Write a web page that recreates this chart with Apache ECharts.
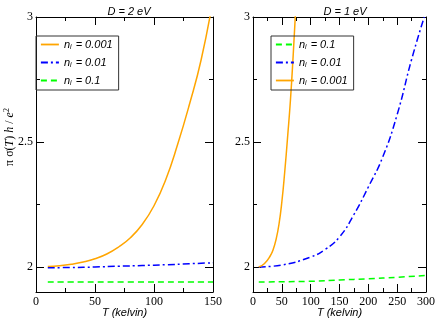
<!DOCTYPE html>
<html><head><meta charset="utf-8">
<script src="https://cdn.jsdelivr.net/npm/echarts@6/dist/echarts.min.js"></script>
<style>html,body{margin:0;padding:0;background:#fff}#c{width:436px;height:319px}</style>
</head><body><div id="c"></div>
<script>
// Panel titles and labels
const titles = ['D = 2 eV', 'D = 1 eV'];
const xName = 'T (kelvin)';
const yTickValues = [2, 2.5, 3];
const yMinorValues = [2.25, 2.75];

// Left panel (D = 2 eV)
const L001_T = [10, 20, 30, 40, 50, 60, 70, 80, 90, 100, 110, 120, 130, 140, 150];
const L001_V = [2.002, 2.005, 2.011, 2.02, 2.033, 2.052, 2.08, 2.117, 2.17, 2.245, 2.35, 2.49, 2.65, 2.83, 3.07];
const L01_T = [10, 30, 50, 70, 90, 110, 130, 150];
const L01_V = [1.997, 1.998, 2.0, 2.003, 2.006, 2.009, 2.013, 2.017];
const L1_T = [10, 150];
const L1_V = [1.94, 1.94];

// Right panel (D = 1 eV)
const R001_T = [10, 20, 30, 35, 40, 45, 50, 55, 60, 65, 70, 74];
const R001_V = [2.0, 2.014, 2.045, 2.07, 2.11, 2.17, 2.26, 2.38, 2.52, 2.67, 2.86, 3.03];
const R01_T = [10, 50, 100, 125, 150, 175, 200, 225, 250, 275, 297];
const R01_V = [2.0, 2.008, 2.04, 2.07, 2.12, 2.21, 2.32, 2.44, 2.61, 2.83, 3.0];
const R1_T = [10, 100, 150, 200, 250, 300];
const R1_V = [1.94, 1.943, 1.948, 1.953, 1.959, 1.966];

const colors = { 'n_i = 0.001': '#ffa500', 'n_i = 0.01': '#0000ff', 'n_i = 0.1': '#00ff00' };
const dashes = { 'n_i = 0.001': 'solid', 'n_i = 0.01': [7, 3, 2, 3], 'n_i = 0.1': [6, 4] };

const pair = (t, v) => t.map((x, i) => [x, v[i]]);
const serif = '"Liberation Serif", "DejaVu Serif", serif';
const sans = '"Liberation Sans", Arial, sans-serif';

function xAxes(grid, max, bottom) {
  return {
    type: 'value', gridIndex: grid, min: 0, max: max, interval: 50,
    position: bottom ? 'bottom' : 'top',
    axisLine: { show: true, onZero: false, lineStyle: { color: '#000', width: 1 } },
    axisTick: { show: true, inside: true, length: 8, lineStyle: { color: '#000' } },
    minorTick: { show: true, splitNumber: 2, length: 4, lineStyle: { color: '#000' } },
    splitLine: { show: false }, minorSplitLine: { show: false },
    axisLabel: { show: bottom, margin: 4, color: '#000', fontFamily: serif, fontSize: 12 },
    name: bottom ? xName : '', nameLocation: 'middle', nameGap: 15, nameMoveOverlap: false,
    nameTextStyle: { fontFamily: sans, fontStyle: 'italic', fontSize: 11, color: '#000', verticalAlign: 'top' }
  };
}
function yAxes(grid, left, minor) {
  const vals = minor ? yMinorValues : yTickValues;
  return {
    type: 'value', gridIndex: grid, min: 1.9, max: 3,
    position: left ? 'left' : 'right',
    axisLine: { show: !minor, onZero: false, lineStyle: { color: '#000', width: 1 } },
    axisTick: { show: true, inside: true, length: minor ? 4 : 8, customValues: vals, lineStyle: { color: '#000' } },
    splitLine: { show: false },
    axisLabel: { show: left && !minor, customValues: vals, margin: 3, color: '#000', fontFamily: serif, fontSize: 12 }
  };
}

const grids = [
  { left: 36, right: 223, top: 17, bottom: 27, containLabel: false, outerBoundsMode: 'none' },
  { left: 253, right: 10, top: 17, bottom: 27, containLabel: false, outerBoundsMode: 'none' }
];

const legendCommon = {
  orient: 'vertical', top: 36, itemWidth: 18, itemHeight: 11, itemGap: 6,
  padding: [3, 6, 3, 4], borderColor: '#333', borderWidth: 1, backgroundColor: 'transparent',
  selectedMode: false,
  itemStyle: { opacity: 0, color: 'rgba(0,0,0,0)', borderWidth: 0 },
  lineStyle: { width: 1.8 },
  formatter: function (name) {
    const v = name.split(' = ')[1];
    return '{n|n}{s|i}{n| = ' + v + '}';
  },
  textStyle: {
    color: '#000', fontFamily: sans, fontSize: 11,
    rich: {
      n: { fontFamily: sans, fontStyle: 'italic', fontSize: 11, color: '#000' },
      s: { fontFamily: sans, fontStyle: 'italic', fontSize: 7, color: '#000', verticalAlign: 'bottom', padding: [6, 1, 0, 0] }
    }
  }
};

function mkSeries(name, data, xi, yi) {
  return {
    type: 'line', name: name, data: data, xAxisIndex: xi, yAxisIndex: yi,
    symbol: 'none', smooth: true, clip: true, animation: false,
    lineStyle: { color: colors[name], width: 1.5, type: dashes[name] },
    itemStyle: { color: colors[name] }
  };
}

const option = {
  animation: false,
  title: [
    { text: titles[0], left: 124, top: 1, textAlign: 'center', textStyle: { fontFamily: sans, fontStyle: 'italic', fontWeight: 'normal', fontSize: 11, color: '#000' } },
    { text: titles[1], left: 340, top: 1, textAlign: 'center', textStyle: { fontFamily: sans, fontStyle: 'italic', fontWeight: 'normal', fontSize: 11, color: '#000' } }
  ],
  grid: grids,
  xAxis: [xAxes(0, 150, true), xAxes(0, 150, false), xAxes(1, 300, true), xAxes(1, 300, false)],
  yAxis: [yAxes(0, true, false), yAxes(0, true, true), yAxes(0, false, false), yAxes(0, false, true),
          yAxes(1, true, false), yAxes(1, true, true), yAxes(1, false, false), yAxes(1, false, true)],
  legend: [
    Object.assign({}, legendCommon, { left: 36, data: ['n_i = 0.001', 'n_i = 0.01', 'n_i = 0.1'] }),
    Object.assign({}, legendCommon, { left: 271, data: ['n_i = 0.1', 'n_i = 0.01', 'n_i = 0.001'] })
  ],
  graphic: [{
    type: 'text', x: 10, y: 137, rotation: Math.PI / 2,
    style: {
      text: '{n|π σ(}{i|T}{n|) }{i|h}{n| / }{i|e}{p|2}',
      align: 'center', verticalAlign: 'middle',
      rich: {
        n: { fontFamily: serif, fontSize: 12, fill: '#000' },
        i: { fontFamily: serif, fontStyle: 'italic', fontSize: 12, fill: '#000' },
        p: { fontFamily: serif, fontSize: 8, fill: '#000', verticalAlign: 'top', padding: [0, 0, 6, 0] }
      }
    }
  }],
  series: [
    mkSeries('n_i = 0.001', pair(L001_T, L001_V), 0, 0),
    mkSeries('n_i = 0.01', pair(L01_T, L01_V), 0, 0),
    mkSeries('n_i = 0.1', pair(L1_T, L1_V), 0, 0),
    mkSeries('n_i = 0.1', pair(R1_T, R1_V), 2, 4),
    mkSeries('n_i = 0.01', pair(R01_T, R01_V), 2, 4),
    mkSeries('n_i = 0.001', pair(R001_T, R001_V), 2, 4)
  ]
};
const chart = echarts.init(document.getElementById('c'), null, { renderer: 'canvas' });
chart.setOption(option);
</script></body></html>
